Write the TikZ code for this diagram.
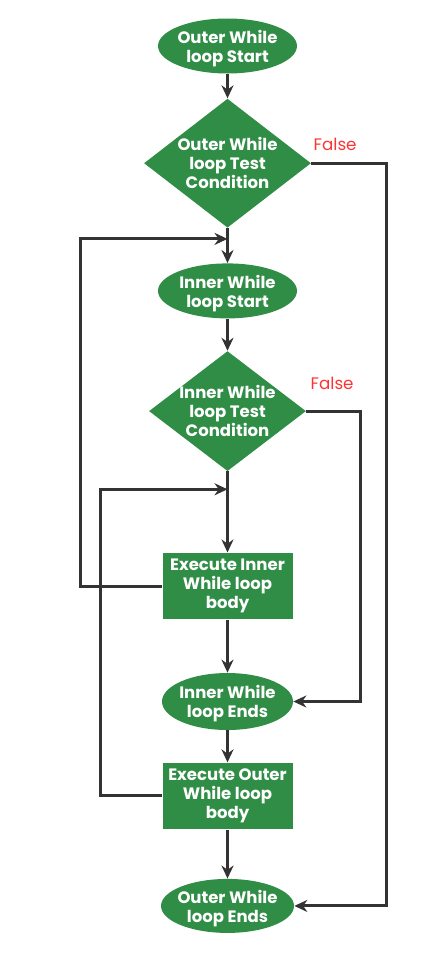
\documentclass[tikz,border=0pt]{standalone}
\usepackage{fontspec}
\setsansfont{Poppins}
\usepackage{tikz}
\usetikzlibrary{shapes.geometric, arrows.meta, positioning, calc}
\definecolor{gfggreen}{RGB}{47,141,70}
\definecolor{linegray}{RGB}{51,51,51}
\definecolor{falsered}{RGB}{255,51,51}
\newcommand{\boxfont}{\sffamily\bfseries\fontsize{9.4}{10.8}\selectfont}
\tikzstyle{terminal}=[ellipse, fill=gfggreen, text=white, inner sep=-0.3cm, text depth=-2.5pt,
  minimum width=2.78cm, minimum height=1.1cm, align=center, font=\boxfont]
\tikzstyle{decision}=[diamond, fill=gfggreen, text=white, inner sep=-0.4cm,
  minimum width=3.34cm, minimum height=2.58cm, align=center, font=\boxfont]
\tikzstyle{process}=[rectangle, fill=gfggreen, text=white, inner sep=0cm,
  minimum width=2.6cm, minimum height=1.33cm, align=center, font=\boxfont]
\tikzstyle{arrow}=[-{Stealth[length=0.26cm, width=0.24cm]}, line width=1.7pt, color=linegray]
\tikzstyle{falselabel}=[text=falsered, inner sep=0pt, font=\sffamily\fontsize{9.5}{11}\selectfont]

\begin{document}
\begin{tikzpicture}
  \useasboundingbox (0,0) rectangle (8.84,-19.34);
  \node[terminal] (ostart) at (4.55,-0.92) {Outer While\\loop Start};
  \node[decision, below=0.49cm of ostart] (otest) {Outer While\\loop Test\\Condition};
  \node[terminal, below=0.7cm of otest] (istart) {Inner While\\loop Start};
  \node[decision, below=0.64cm of istart, minimum width=3.14cm, minimum height=2.4cm]
    (itest) {Inner While\\loop Test\\Condition};
  \node[process, below=1.62cm of itest] (ibody) {Execute Inner\\While loop\\body};
  \node[terminal, below=1.06cm of ibody, minimum width=2.62cm, minimum height=1.14cm]
    (iend) {Inner While\\loop Ends};
  \node[process, below=0.64cm of iend] (obody) {Execute Outer\\While loop\\body};
  \node[terminal, below=0.98cm of obody, minimum width=2.66cm, minimum height=1.08cm]
    (oend) {Outer While\\loop Ends};
  \node[falselabel, above right=0.24cm and 0.04cm of otest.east] (ofalse) {False};
  \node[falselabel, above right=0.42cm and 0.08cm of itest.east] (ifalse) {False};
  \coordinate (ojoin) at ($(otest.south)!0.31!(istart.north)$);
  \coordinate (ijoin) at ($(itest.south)!0.22!(ibody.north)$);
  \draw[arrow] (ostart) -- (otest);
  \draw[arrow] (otest) -- (istart);
  \draw[arrow] (istart) -- (itest);
  \draw[arrow] (itest) -- (ibody);
  \draw[arrow] (ibody) -- (iend);
  \draw[arrow] (iend) -- (obody);
  \draw[arrow] (obody) -- (oend);
  \draw[arrow] (ibody.west) -- ++(-1.64,0) |- (ojoin);
  \draw[arrow] (obody.west) -- ++(-1.24,0) |- (ijoin);
  \draw[arrow] (otest.east) -- ++(1.5,0) |- (oend.east);
  \draw[arrow] (itest.east) -- ++(1.08,0) |- (iend.east);
\end{tikzpicture}
\end{document}
